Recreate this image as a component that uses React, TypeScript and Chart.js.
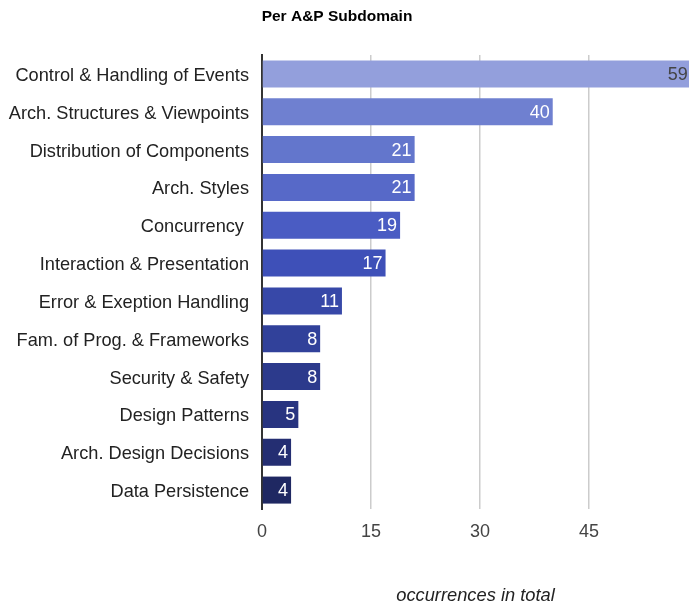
import React, { useEffect, useRef } from "react";
import { Chart, registerables } from "chart.js";

Chart.register(...registerables);

const categories: string[] = [
  "Control & Handling of Events",
  "Arch. Structures & Viewpoints",
  "Distribution of Components",
  "Arch. Styles",
  "Concurrency ",
  "Interaction & Presentation",
  "Error & Exeption Handling",
  "Fam. of Prog. & Frameworks",
  "Security & Safety",
  "Design Patterns",
  "Arch. Design Decisions",
  "Data Persistence",
];

const occurrences: number[] = [59, 40, 21, 21, 19, 17, 11, 8, 8, 5, 4, 4];

const barColors: string[] = [
  "#939fdc",
  "#6f80d0",
  "#6376cc",
  "#5769c8",
  "#4a5cc3",
  "#3e50b8",
  "#3748a8",
  "#31419a",
  "#2c3a8c",
  "#283480",
  "#242e72",
  "#1f2862",
];

const xTicks: number[] = [0, 15, 30, 45];

const chartTitle = "Per A&P Subdomain";
const xAxisTitle = "occurrences in total";

const FONT = "'Liberation Sans', Arial, sans-serif";

const titleDrawer = {
  id: "titleDrawer",
  afterDraw(chart: any) {
    const ctx = chart.ctx;
    ctx.save();
    ctx.font = `bold 15.5px ${FONT}`;
    ctx.fillStyle = "#000000";
    ctx.textAlign = "center";
    ctx.textBaseline = "middle";
    ctx.fillText(chartTitle, 337, 17);
    ctx.restore();
  },
};

const valueLabels = {
  id: "valueLabels",
  afterDatasetsDraw(chart: any) {
    const ctx = chart.ctx;
    const meta = chart.getDatasetMeta(0);
    const area = chart.chartArea;
    ctx.save();
    ctx.font = `18px ${FONT}`;
    ctx.textAlign = "right";
    ctx.textBaseline = "middle";
    meta.data.forEach((bar: any, i: number) => {
      const endX = Math.min(bar.x, area.right + 2);
      ctx.fillStyle = i === 0 ? "#444444" : "#ffffff";
      ctx.fillText(String(occurrences[i]), endX - 3, bar.y + 1);
    });
    ctx.restore();
  },
};

export default function App() {
  const canvasRef = useRef<HTMLCanvasElement | null>(null);

  useEffect(() => {
    if (!canvasRef.current) return;
    const chart = new Chart(canvasRef.current, {
      type: "bar",
      data: {
        labels: categories,
        datasets: [
          {
            data: occurrences,
            backgroundColor: barColors,
            borderWidth: 0,
            categoryPercentage: 1,
            barPercentage: 0.714,
          },
        ],
      },
      options: {
        indexAxis: "y",
        responsive: false,
        animation: false,
        layout: { padding: { left: 0, right: 0, top: 55, bottom: 0 } },
        plugins: {
          legend: { display: false },
          tooltip: { enabled: false },
          title: { display: false },
        },
        scales: {
          x: {
            type: "linear",
            min: 0,
            max: 58.75,
            afterBuildTicks: (scale: any) => {
              scale.ticks = xTicks.map((v) => ({ value: v }));
            },
            afterFit: (scale: any) => {
              scale.height = 98;
            },
            grid: { color: "#cccccc", lineWidth: 1.5, drawTicks: false },
            border: { display: false },
            ticks: {
              color: "#444444",
              padding: 12.5,
              font: { family: FONT, size: 18 },
            },
            title: {
              display: true,
              text: xAxisTitle,
              color: "#222222",
              font: { family: FONT, size: 18.3, style: "italic" },
              padding: { top: 5, bottom: 0 },
            },
          },
          y: {
            afterFit: (scale: any) => {
              scale.width = 262;
            },
            grid: { display: false, drawTicks: false },
            border: { display: true, color: "#333333", width: 2 },
            ticks: {
              color: "#222222",
              padding: 13,
              labelOffset: 2,
              autoSkip: false,
              font: { family: FONT, size: 18.2 },
            },
          },
        },
      },
      plugins: [valueLabels, titleDrawer],
    });
    return () => chart.destroy();
  }, []);

  return (
    <div style={{ position: "fixed", left: 0, top: 0, width: 689, height: 607, background: "#ffffff" }}>
      <canvas ref={canvasRef} width={689} height={607} />
    </div>
  );
}
